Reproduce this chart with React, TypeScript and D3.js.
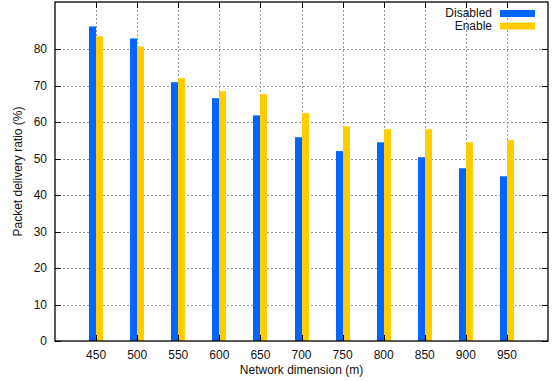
import React, { useEffect, useRef } from "react";
import * as d3 from "d3";

const dimensions = [450, 500, 550, 600, 650, 700, 750, 800, 850, 900, 950];
const disabled = [86.3, 83.0, 71.0, 66.6, 61.9, 55.9, 52.1, 54.5, 50.4, 47.4, 45.2];
const enable = [83.6, 80.8, 72.1, 68.5, 67.7, 62.5, 58.9, 58.1, 58.1, 54.5, 55.1];
const yTicks = [0, 10, 20, 30, 40, 50, 60, 70, 80];
const seriesNames = ["Disabled", "Enable"];

export default function App() {
  const ref = useRef<SVGSVGElement>(null);

  useEffect(() => {
    const width = 555,
      height = 381;
    const margin = { top: 2, right: 7, bottom: 40, left: 55 };
    const svg = d3.select(ref.current);
    svg.selectAll("*").remove();

    const x = d3.scaleLinear().domain([400, 1000]).range([margin.left, width - margin.right]);
    const y = d3.scaleLinear().domain([0, 93]).range([height - margin.bottom, margin.top]);
    const colors = ["#0066ff", "#ffcc00"];
    const barW = 7;
    const font = "'Liberation Sans', Arial, sans-serif";

    // grid
    const grid = svg.append("g").attr("stroke", "#999").attr("stroke-dasharray", "2,2").attr("stroke-width", 1);
    grid
      .selectAll("line.h")
      .data(yTicks.slice(1))
      .enter()
      .append("line")
      .attr("x1", margin.left)
      .attr("x2", width - margin.right)
      .attr("y1", (d) => Math.round(y(d)) + 0.5)
      .attr("y2", (d) => Math.round(y(d)) + 0.5);
    grid
      .selectAll("line.v")
      .data(dimensions)
      .enter()
      .append("line")
      .attr("x1", (d) => Math.round(x(d)) + 0.5)
      .attr("x2", (d) => Math.round(x(d)) + 0.5)
      .attr("y1", margin.top)
      .attr("y2", height - margin.bottom);

    // bars
    const series = [disabled, enable];
    series.forEach((vals, s) => {
      svg
        .append("g")
        .selectAll("rect")
        .data(dimensions)
        .enter()
        .append("rect")
        .attr("x", (d) => Math.round(x(d)) + (s === 0 ? -barW : 0))
        .attr("y", (d, i) => y(vals[i]))
        .attr("width", barW)
        .attr("height", (d, i) => y(0) - y(vals[i]))
        .attr("fill", colors[s]);
    });

    // ticks
    const ticks = svg.append("g").attr("stroke", "#000").attr("stroke-width", 1);
    yTicks.forEach((t) => {
      const yy = Math.round(y(t)) + 0.5;
      ticks.append("line").attr("x1", margin.left).attr("x2", margin.left + 6).attr("y1", yy).attr("y2", yy);
      ticks
        .append("line")
        .attr("x1", width - margin.right - 6)
        .attr("x2", width - margin.right)
        .attr("y1", yy)
        .attr("y2", yy);
    });
    dimensions.forEach((d) => {
      const xx = Math.round(x(d)) + 0.5;
      ticks
        .append("line")
        .attr("x1", xx)
        .attr("x2", xx)
        .attr("y1", height - margin.bottom)
        .attr("y2", height - margin.bottom - 6);
      ticks.append("line").attr("x1", xx).attr("x2", xx).attr("y1", margin.top).attr("y2", margin.top + 6);
    });

    // frame
    svg
      .append("rect")
      .attr("x", margin.left)
      .attr("y", margin.top)
      .attr("width", width - margin.left - margin.right)
      .attr("height", height - margin.top - margin.bottom)
      .attr("fill", "none")
      .attr("stroke", "#000")
      .attr("stroke-width", 1.3);

    // tick labels
    svg
      .append("g")
      .selectAll("text")
      .data(yTicks)
      .enter()
      .append("text")
      .attr("x", margin.left - 8)
      .attr("y", (d) => y(d) + 4)
      .attr("text-anchor", "end")
      .attr("font-family", font)
      .attr("font-size", 12)
      .attr("fill", "#111")
      .text((d) => d);
    svg
      .append("g")
      .selectAll("text")
      .data(dimensions)
      .enter()
      .append("text")
      .attr("x", (d) => x(d))
      .attr("y", height - margin.bottom + 18)
      .attr("text-anchor", "middle")
      .attr("font-family", font)
      .attr("font-size", 12)
      .attr("fill", "#111")
      .text((d) => d);

    // axis titles
    svg
      .append("text")
      .attr("x", (margin.left + width - margin.right) / 2)
      .attr("y", height - 7)
      .attr("text-anchor", "middle")
      .attr("font-family", font)
      .attr("font-size", 12)
      .attr("fill", "#111")
      .text("Network dimension (m)");
    svg
      .append("text")
      .attr("transform", `translate(22, ${(margin.top + height - margin.bottom) / 2}) rotate(-90)`)
      .attr("text-anchor", "middle")
      .attr("font-family", font)
      .attr("font-size", 12)
      .attr("fill", "#111")
      .text("Packet delivery ratio (%)");

    // legend
    seriesNames.forEach((name, i) => {
      const ly = 10 + i * 12.5;
      svg
        .append("text")
        .attr("x", 492)
        .attr("y", ly + 7)
        .attr("text-anchor", "end")
        .attr("font-family", font)
        .attr("font-size", 12)
        .attr("fill", "#111")
        .text(name);
      svg.append("rect").attr("x", 500).attr("y", ly).attr("width", 35).attr("height", 7).attr("fill", colors[i]);
    });
  }, []);

  return (
    <div>
      <svg
        ref={ref}
        width={555}
        height={381}
        style={{ position: "absolute", left: 0, top: 0, background: "#fff" }}
      ></svg>
    </div>
  );
}
